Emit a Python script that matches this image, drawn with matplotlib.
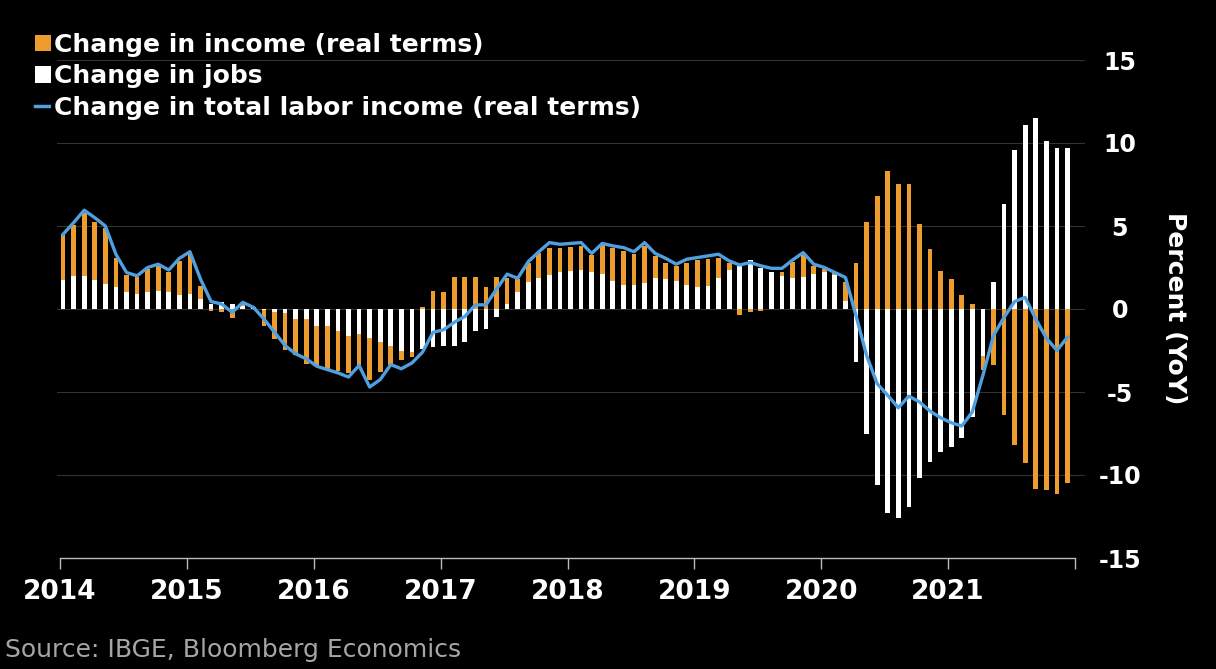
import matplotlib
matplotlib.use("Agg")
import matplotlib.pyplot as plt
import numpy as np
import pandas as pd
from matplotlib.patches import Patch
from matplotlib.lines import Line2D

# Monthly year-on-year changes, Jan 2014 - Dec 2021 (percent)
months = pd.date_range("2014-01-01", "2021-12-01", freq="MS")

jobs = [
    1.76, 2.0, 1.97, 1.74, 1.5, 1.3, 1.0, 0.92, 1.0, 1.1, 1.0, 0.82,
    0.9, 0.6, 0.3, 0.42, 0.3, 0.2, 0.1, -0.05, -0.2, -0.25, -0.6, -0.6,
    -1.0, -1.0, -1.35, -1.65, -1.5, -1.75, -2.0, -2.2, -2.5, -2.6, -2.4, -2.3,
    -2.2, -2.2, -2.0, -1.35, -1.2, -0.5, 0.3, 1.0, 1.6, 1.86, 2.05, 2.2,
    2.3, 2.36, 2.2, 2.1, 1.7, 1.45, 1.45, 1.55, 1.85, 1.8, 1.7, 1.45,
    1.35, 1.4, 1.85, 2.33, 2.58, 2.95, 2.5, 2.2, 1.98, 1.85, 1.95, 2.08,
    2.2, 2.05, 0.5, -3.2, -7.5, -10.6, -12.3, -12.6, -11.9, -10.2, -9.2, -8.6,
    -8.3, -7.75, -6.5, -2.85, 1.6, 6.3, 9.6, 11.1, 11.5, 10.1, 9.7, 9.7,
]

income = [
    2.74, 3.05, 3.79, 3.51, 3.35, 1.8, 1.05, 1.03, 1.4, 1.5, 1.25, 2.08,
    2.45, 0.8, -0.1, -0.2, -0.55, 0.15, 0.05, -1.0, -1.6, -2.2, -2.2, -2.7,
    -2.4, -2.65, -2.4, -2.2, -1.9, -2.55, -1.8, -1.2, -0.55, -0.3, 0.15, 1.1,
    1.0, 1.9, 1.9, 1.9, 1.3, 1.9, 1.55, 0.8, 1.15, 1.5, 1.65, 1.5,
    1.46, 1.41, 1.05, 1.75, 1.95, 2.05, 1.85, 2.25, 1.35, 1.0, 0.9, 1.35,
    1.6, 1.6, 1.25, 0.42, -0.35, -0.2, -0.1, 0.05, 0.27, 1.0, 1.4, 0.52,
    0.2, 0.1, 1.1, 2.8, 5.25, 6.8, 8.3, 7.55, 7.55, 5.15, 3.6, 2.3,
    1.78, 0.82, 0.3, -0.8, -3.4, -6.4, -8.2, -9.3, -10.85, -10.9, -11.15, -10.5,
]

total = [
    4.5, 5.2, 5.95, 5.5, 5.0, 3.3, 2.2, 2.0, 2.5, 2.7, 2.35, 3.05,
    3.45, 1.8, 0.45, 0.3, -0.2, 0.4, 0.1, -0.6, -1.4, -2.2, -2.7, -3.0,
    -3.45, -3.65, -3.85, -4.1, -3.4, -4.7, -4.25, -3.35, -3.6, -3.25, -2.6, -1.4,
    -1.25, -0.8, -0.45, 0.25, 0.25, 1.2, 2.1, 1.85, 2.85, 3.45, 4.0, 3.9,
    3.95, 4.0, 3.35, 3.95, 3.8, 3.7, 3.45, 4.0, 3.35, 3.05, 2.7, 3.0,
    3.1, 3.2, 3.3, 2.9, 2.65, 2.8, 2.6, 2.45, 2.45, 2.95, 3.4, 2.7,
    2.5, 2.2, 1.9, -0.4, -2.8, -4.5, -5.2, -5.95, -5.25, -5.6, -6.15, -6.55,
    -6.85, -7.05, -6.2, -4.0, -1.6, -0.5, 0.45, 0.7, -0.6, -1.75, -2.5, -1.7,
]

year_ticks = [2014, 2015, 2016, 2017, 2018, 2019, 2020, 2021, 2022]
year_labels = ["2014", "2015", "2016", "2017", "2018", "2019", "2020", "2021", ""]
y_ticks = [-15, -10, -5, 0, 5, 10, 15]

ORANGE = "#EE9C2E"
WHITE = "#FFFFFF"
BLUE = "#4FA0E0"
BG = "#000000"
GRID = "#333333"
AXIS = "#BBBBBB"

plt.rcParams["font.family"] = ["DejaVu Sans"]
plt.rcParams["axes.unicode_minus"] = False

fig = plt.figure(figsize=(12.16, 6.69), dpi=100, facecolor=BG)
ax = fig.add_axes([57 / 1216, 111 / 669, 1028 / 1216, 498 / 669])
ax.set_facecolor(BG)

x = months.year + (months.month - 1) / 12 + 0.024
jobs_a = np.array(jobs)
inc_a = np.array(income)
# income stacks on top of jobs when both move the same way
base = np.where(np.sign(inc_a) == np.sign(jobs_a), jobs_a, 0.0)

bw = 0.45 / 12
for v in y_ticks[1:]:
    ax.axhline(v, color=GRID, lw=0.8, zorder=0)
ax.bar(x, jobs_a, width=bw, color=WHITE, zorder=2, linewidth=0)
ax.bar(x, inc_a, bottom=base, width=bw, color=ORANGE, zorder=2, linewidth=0)
ax.plot(x, total, color=BLUE, lw=2.4, zorder=3, solid_joinstyle="round")

ax.set_xlim(2014 - 3 / 126.9, 2022 + 10 / 126.9)
ax.set_ylim(-15, 15)

for s in ["top", "right", "left"]:
    ax.spines[s].set_visible(False)
ax.spines["bottom"].set_color(AXIS)
ax.spines["bottom"].set_linewidth(1.0)
ax.spines["bottom"].set_bounds(2014, 2022)

ax.set_xticks(year_ticks)
ax.set_xticklabels(year_labels)
ax.tick_params(axis="x", colors=AXIS, length=8, width=1.0, pad=7,
               labelsize=19, labelcolor="white")
for lbl in ax.get_xticklabels():
    lbl.set_fontweight("bold")

ax.yaxis.tick_right()
ax.set_yticks(y_ticks)
ax.tick_params(axis="y", length=0, pad=25, labelsize=17, labelcolor="white")
for lbl in ax.get_yticklabels():
    lbl.set_fontweight("bold")
    lbl.set_horizontalalignment("center")

fig.text(1175 / 1216, 1 - 308 / 669, "Percent (YoY)", rotation=270,
         ha="center", va="center", color="white", fontsize=18, fontweight="bold")

handles = [
    Patch(facecolor=ORANGE, edgecolor="none"),
    Patch(facecolor=WHITE, edgecolor="none"),
    Line2D([], [], color=BLUE, lw=2.5),
]
labels = [
    "Change in income (real terms)",
    "Change in jobs",
    "Change in total labor income (real terms)",
]
leg = fig.legend(handles, labels, loc="upper left",
                 bbox_to_anchor=(31 / 1216, 1 - 29 / 669),
                 frameon=False,
                 handlelength=0.65, handleheight=0.65, handletextpad=0.12,
                 labelspacing=0.3, borderpad=0.15, borderaxespad=0,
                 prop={"weight": "bold", "size": 18}, labelcolor="white")
# each label sits on its own black backing so grid lines stop at the text
for t in leg.get_texts():
    t.set_bbox(dict(facecolor=BG, edgecolor="none", pad=2))

fig.text(5 / 1216, 1 - 650 / 669, "Source: IBGE, Bloomberg Economics",
         ha="left", va="center", color="#A6A6A6", fontsize=18)

fig.savefig("out.png", dpi=100, facecolor=BG)
